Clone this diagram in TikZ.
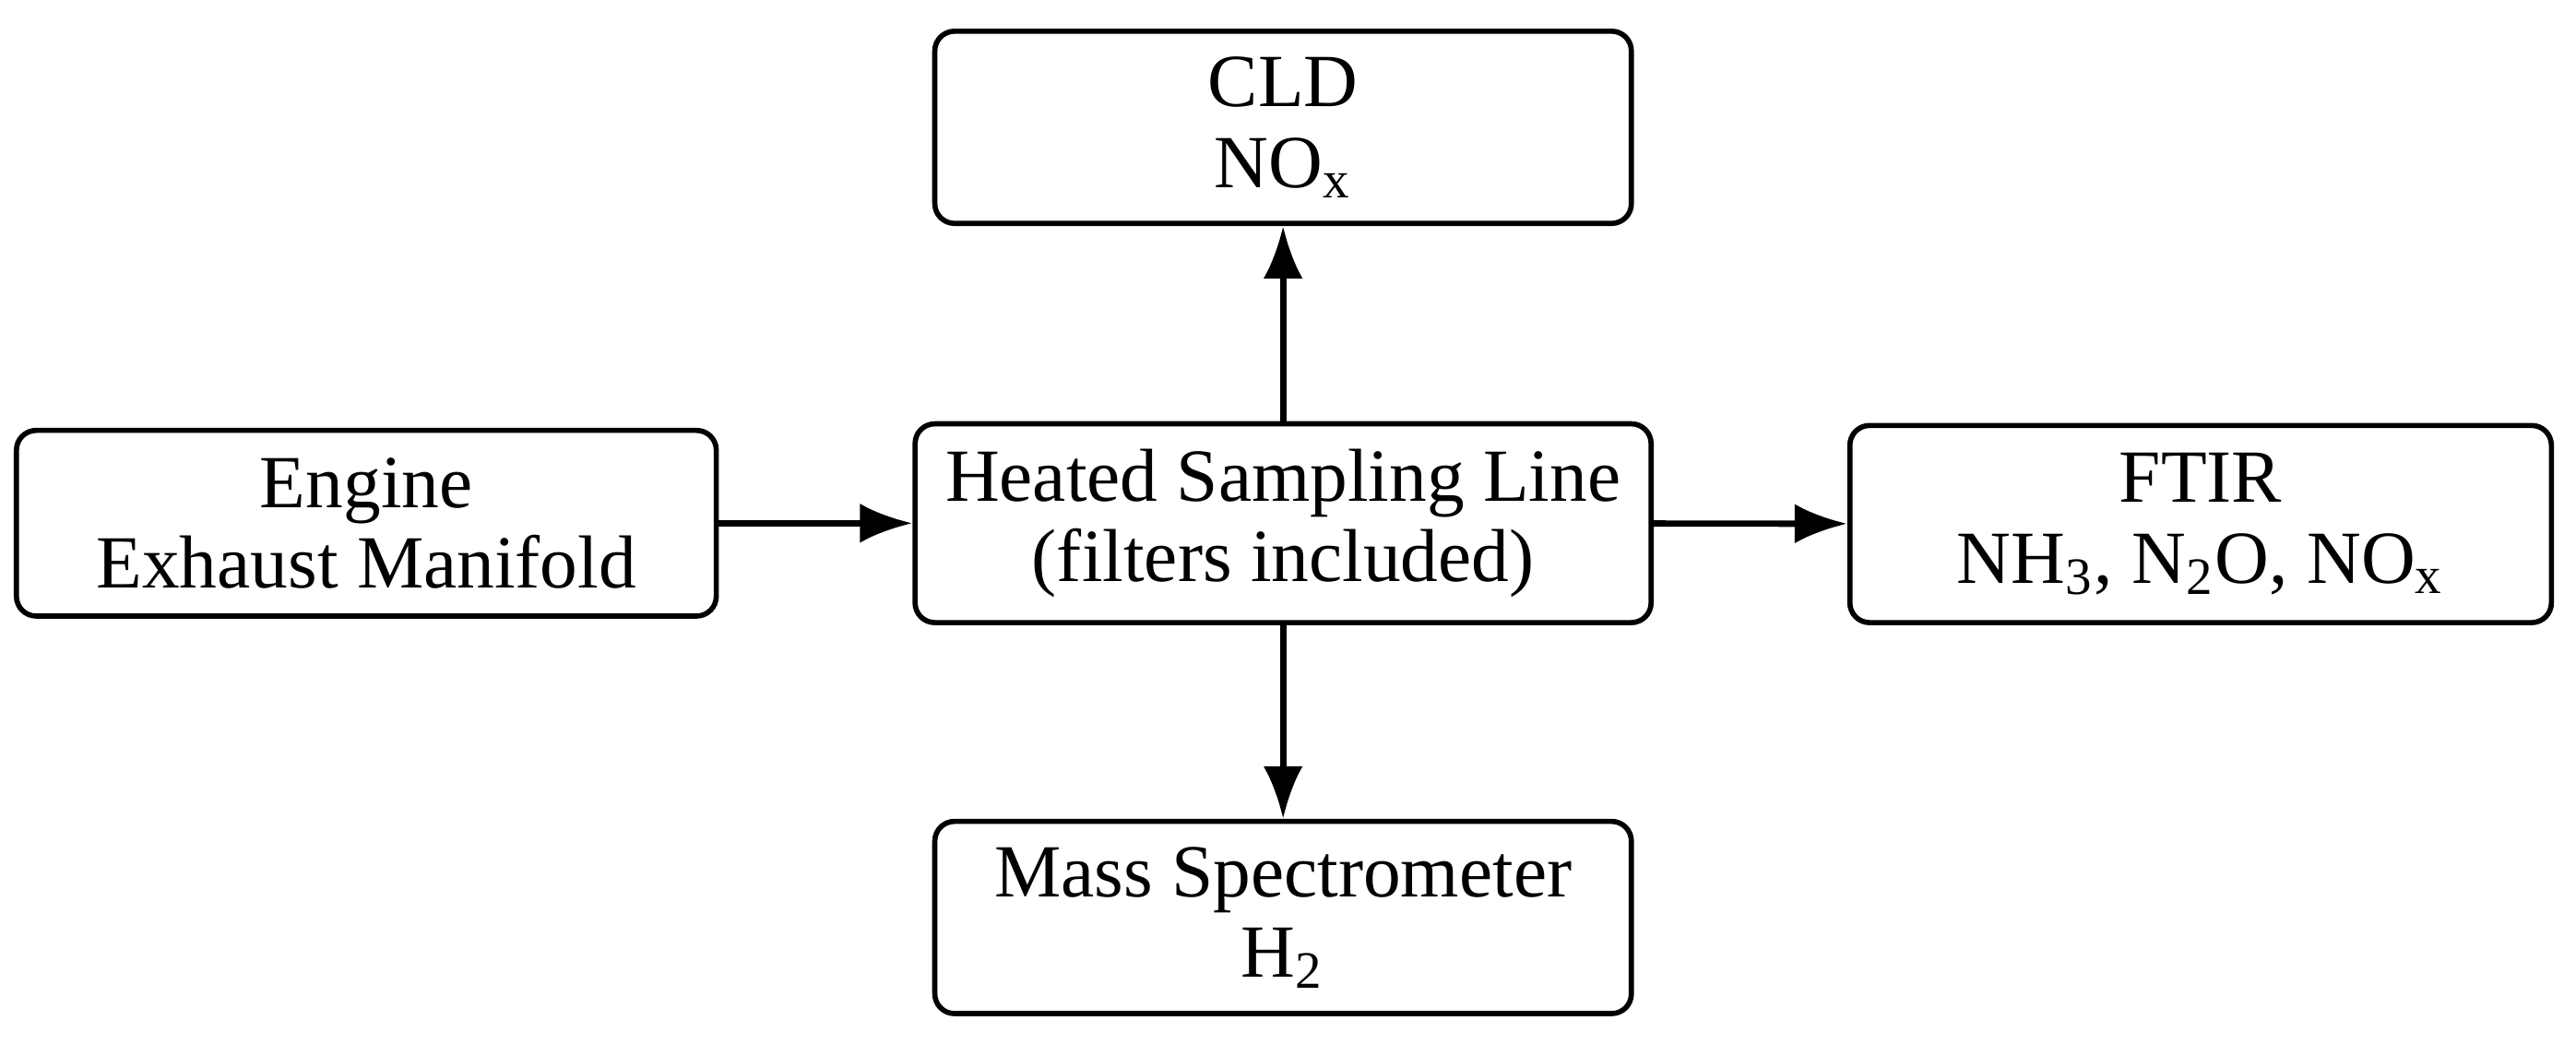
\documentclass[tikz,border=0pt]{standalone}
\usepackage{fontspec}
\setmainfont{Liberation Serif}
\usetikzlibrary{arrows.meta}
\begin{document}
\begin{tikzpicture}[
  box/.style={draw, line width=0.9pt, rounded corners=0.12cm, align=center, inner sep=0pt, font=\fontsize{13}{14}\selectfont},
  arr/.style={line width=1.1pt, -{Latex[length=0.32cm,width=0.24cm]}}]
\useasboundingbox (0,0) rectangle (15.68,6.35);
\node[box, minimum width=4.24cm, minimum height=1.17cm] (cld) at (7.81,5.575) {CLD\\NO\textsubscript{x}};
\node[box, minimum width=4.26cm, minimum height=1.13cm] (eng) at (2.23,3.165) {Engine\\Exhaust Manifold};
\node[box, minimum width=4.48cm, minimum height=1.21cm] (hsl) at (7.81,3.165) {Heated Sampling Line\\(filters included)};
\node[box, minimum width=4.27cm, minimum height=1.20cm] (ftir) at (13.395,3.16) {FTIR\\NH\textsubscript{3}, N\textsubscript{2}O, NO\textsubscript{x}};
\node[box, minimum width=4.24cm, minimum height=1.17cm] (ms) at (7.81,0.765) {Mass Spectrometer\\H\textsubscript{2}};
\draw[arr] (eng) -- (hsl);
\draw[arr] (hsl) -- (ftir);
\draw[arr] (hsl) -- (cld);
\draw[arr] (hsl) -- (ms);
\end{tikzpicture}
\end{document}
